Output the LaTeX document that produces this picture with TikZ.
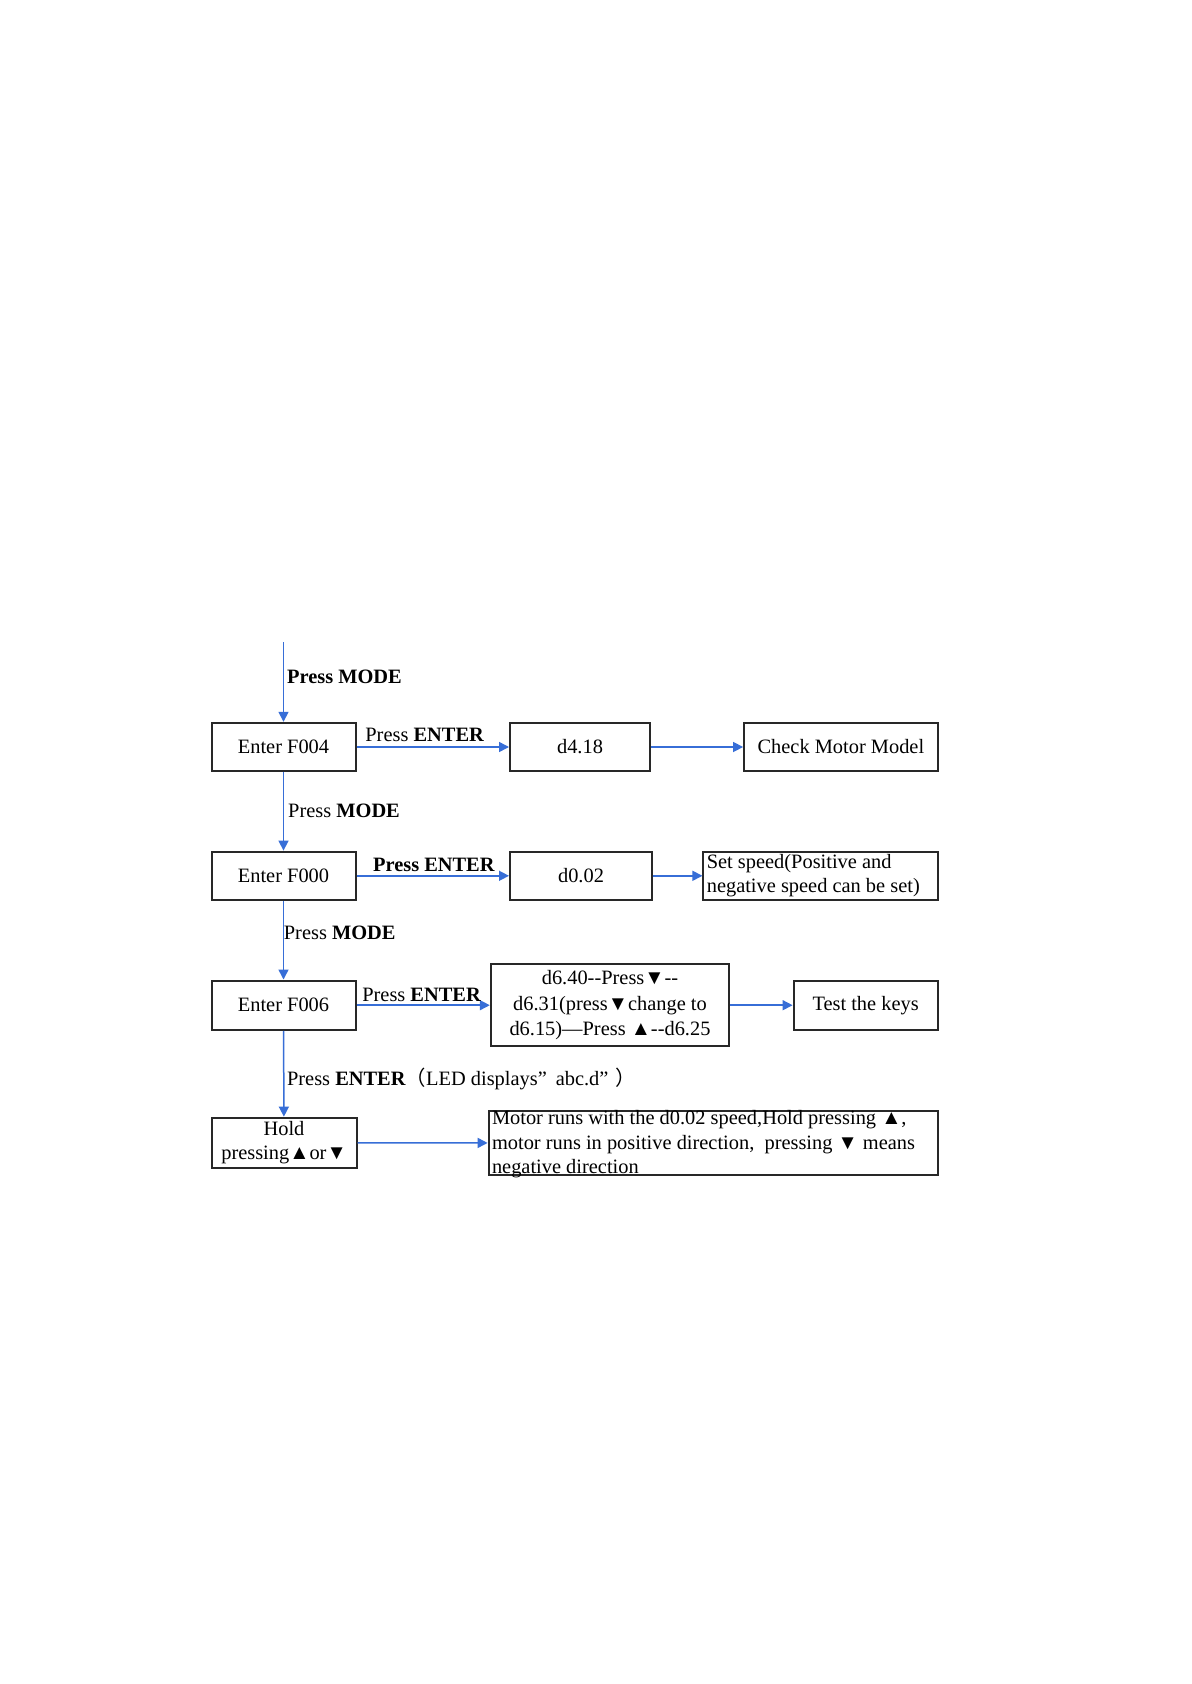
\documentclass[tikz,border=0pt]{standalone}
\usepackage{fontspec}
\setmainfont{Liberation Serif}[Ligatures=TeXOff]
\newfontfamily\cjkfont{Noto Sans CJK SC}
\usetikzlibrary{arrows.meta}
\definecolor{arrowblue}{RGB}{55,110,215}
\definecolor{boxline}{RGB}{40,40,40}
\begin{document}
\begin{tikzpicture}[x=0.5pt,y=-0.5pt,
  font=\fontsize{10.2}{12.3}\selectfont,
  box/.style={draw=boxline, line width=1pt, rectangle, inner sep=2pt, align=center},
  boxtext/.style={anchor=west, inner sep=0pt, align=left},
  conn/.style={draw=arrowblue, line width=0.75pt, -{Triangle[length=5pt,width=5pt]}},
  lbl/.style={anchor=base west, inner sep=0pt}]
\fill[white] (0,0) rectangle (1191,1684);
\useasboundingbox (0,0) rectangle (1191,1684);

% row 1
\coordinate (start) at (283.5,642.2);
\node[box, minimum width=72pt, minimum height=24.2pt] (f004) at (283.5,747) {Enter F004};
\node[box, minimum width=70pt, minimum height=24.2pt] (d418) at (580,747) {d4.18};
\node[box, minimum width=96.8pt, minimum height=24.2pt] (cmm) at (840.9,747) {Check Motor Model};

% row 2
\node[box, minimum width=72pt, minimum height=24.2pt] (f000) at (283.5,875.8) {Enter F000};
\node[box, minimum width=71pt, minimum height=24.2pt] (d002) at (581,875.8) {d0.02};
\node[box, minimum width=117.1pt, minimum height=24.2pt] (setsp) at (820.5,875.8) {};
\node[boxtext] (setsptext) at ([xshift=2pt]setsp.west) {Set speed(Positive and\\negative speed can be set)};

% row 3
\node[box, minimum width=72pt, minimum height=24.7pt] (f006) at (283.5,1005.2) {Enter F006};
\node[box, minimum width=119.2pt, minimum height=40.8pt, font=\fontsize{10.2}{12.9}\selectfont] (d640) at (610,1005.2) {d6.40--Press▼--\\d6.31(press▼change to\\d6.15)—Press ▲--d6.25};
\node[box, minimum width=72pt, minimum height=24.7pt] (test) at (865.6,1005.2) {Test the keys};

% row 4
\node[box, minimum width=72.5pt, minimum height=24.7pt, font=\fontsize{10.2}{11.8}\selectfont] (hold) at (284,1142.7) {Hold\\pressing▲or▼};
\node[box, minimum width=224.5pt, minimum height=32.2pt] (motor) at (713.1,1143.2) {};
\node[boxtext] (motortext) at ([xshift=2pt,yshift=-0.5pt]motor.west) {Motor runs with the d0.02 speed,Hold pressing ▲,\\motor runs in positive direction,\ \ pressing ▼ means\\negative direction};

% connectors
\draw[conn] (start) -- (f004.north);
\draw[conn] (f004) -- (d418);
\draw[conn] (d418) -- (cmm);
\draw[conn] (f004) -- (f000);
\draw[conn] (f000) -- (d002);
\draw[conn] (d002) -- (setsp);
\draw[conn] (f000) -- (f006);
\draw[conn] (f006) -- (d640);
\draw[conn] (d640) -- (test);
\draw[conn] (f006) -- (hold);
\draw[conn] (hold) -- (motor);

% labels
\node[lbl] (pm1) at (286.7,683.4) {\textbf{Press MODE}};
\node[lbl] (pe1) at (365,741.4) {Press \textbf{ENTER}};
\node[lbl] (pm2) at (287.8,817.6) {Press \textbf{MODE}};
\node[lbl] (pe2) at (372.7,871.3) {\textbf{Press ENTER}};
\node[lbl] (pm3) at (283.5,939) {Press \textbf{MODE}};
\node[lbl] (pe3) at (361.9,1001.3) {Press \textbf{ENTER}};
\node[lbl] (pe4) at (286.7,1085) {Press \textbf{ENTER}{\cjkfont （}LED displays”\hspace{4.5pt}abc.d”\hspace{3.5pt}{\cjkfont ）}};
\end{tikzpicture}
\end{document}
